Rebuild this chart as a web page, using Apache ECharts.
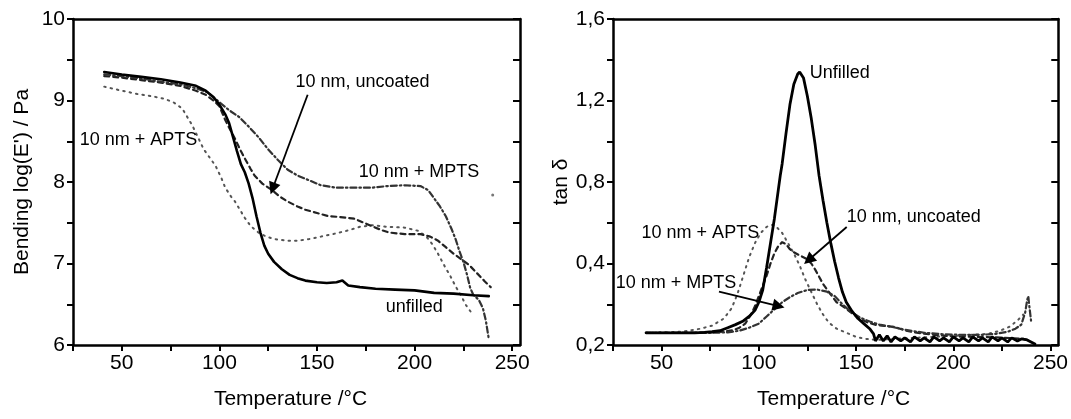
<!DOCTYPE html>
<html><head><meta charset="utf-8">
<script src="https://cdn.jsdelivr.net/npm/echarts@6/dist/echarts.min.js"></script>
<style>html,body{margin:0;padding:0;background:#fff}#c{width:1071px;height:419px}</style>
</head><body><div id="c"></div>
<script>
// ---------- Left panel: Bending log(E') / Pa vs Temperature ----------
const modUnfilled = [[41,9.35],[50,9.32],[60,9.29],[70,9.26],[80,9.22],[88,9.18],[93,9.12],[97,9.04],[100,8.95],[103,8.83],[105,8.72],[107,8.55],[109,8.38],[111,8.22],[113,8.12],[115,7.98],[117,7.8],[119,7.58],[121,7.38],[123,7.22],[125,7.12],[128,7.02],[132,6.93],[136,6.86],[140,6.82],[144,6.79],[150,6.77],[155,6.76],[160,6.77],[163,6.79],[166,6.73],[172,6.71],[180,6.69],[190,6.68],[200,6.67],[210,6.64],[220,6.63],[230,6.61],[238,6.6]];
const modUncoated = [[41,9.3],[50,9.28],[60,9.25],[70,9.22],[80,9.18],[88,9.12],[93,9.07],[97,9.0],[100,8.93],[103,8.76],[106,8.62],[108,8.53],[111,8.38],[113,8.29],[116,8.16],[118,8.08],[122,7.98],[127,7.9],[131,7.82],[135,7.76],[140,7.7],[144,7.66],[150,7.62],[156,7.58],[162,7.57],[169,7.55],[174,7.5],[178,7.46],[183,7.41],[187,7.38],[195,7.36],[203,7.36],[208,7.33],[212,7.28],[216,7.2],[220,7.12],[224,7.05],[228,6.98],[232,6.88],[236,6.78],[239,6.71]];
const modMPTS = [[41,9.32],[50,9.3],[60,9.27],[70,9.23],[80,9.2],[88,9.15],[94,9.1],[100,8.98],[105,8.88],[110,8.8],[115,8.68],[120,8.55],[125,8.4],[130,8.27],[135,8.15],[140,8.08],[145,8.03],[152,7.96],[160,7.93],[170,7.93],[178,7.93],[186,7.95],[195,7.96],[203,7.95],[207,7.9],[210,7.8],[213,7.7],[216,7.58],[219,7.42],[221,7.3],[223,7.15],[225,7.02],[227,6.85],[228.5,6.7],[230,6.62],[233,6.55],[235,6.45],[236.5,6.3],[237.5,6.15],[238,6.08]];
const modAPTS = [[41,9.17],[50,9.12],[58,9.08],[66,9.05],[72,9.02],[77,8.97],[81,8.9],[84,8.78],[86,8.7],[89,8.55],[92,8.4],[95,8.3],[98,8.2],[101,8.05],[103,7.93],[106,7.82],[108,7.76],[111,7.64],[113,7.56],[116,7.46],[120,7.38],[124,7.33],[128,7.3],[135,7.28],[140,7.28],[146,7.3],[152,7.33],[158,7.36],[165,7.4],[172,7.45],[178,7.47],[186,7.45],[195,7.44],[202,7.4],[206,7.33],[209,7.24],[212,7.12],[214,7.03],[216,6.94],[218,6.86],[221,6.72],[224,6.6],[226,6.5],[229,6.4]];
const modAPTSStray = [[240,7.84]];

// ---------- Right panel: tan delta vs Temperature ----------
const tanUnfilled = [[42,0.06],[50,0.06],[60,0.06],[67,0.06],[72,0.062],[76,0.065],[80,0.07],[84,0.085],[88,0.1],[92,0.118],[95,0.14],[98,0.17],[100,0.21],[102,0.27],[104,0.38],[106,0.5],[108,0.62],[110,0.76],[111,0.83],[112,0.89],[114,1.04],[116,1.18],[118,1.28],[120,1.33],[121,1.34],[123,1.31],[125,1.22],[127,1.11],[129,0.98],[131,0.83],[133,0.71],[135,0.6],[137,0.5],[139,0.41],[141,0.33],[143,0.26],[145,0.21],[148,0.165],[151,0.13],[154,0.105],[157,0.08],[159,0.055],[160,0.02],[162,0.05],[164,0.02],[166,0.045],[168,0.015],[170,0.04],[173,0.02],[175,0.035],[178,0.015],[180,0.04],[183,0.02],[185,0.035],[188,0.015],[190,0.04],[193,0.02],[195,0.035],[198,0.015],[200,0.04],[203,0.02],[205,0.035],[208,0.015],[210,0.04],[213,0.02],[215,0.035],[218,0.015],[220,0.04],[223,0.02],[225,0.035],[228,0.015],[230,0.035],[233,0.02],[235,0.03],[238,0.025],[240,0.015],[242,0.005]];
const tanUncoated = [[42,0.06],[60,0.06],[75,0.062],[82,0.066],[87,0.073],[90,0.085],[93,0.105],[96,0.15],[98,0.19],[100,0.24],[102,0.29],[104,0.34],[106,0.4],[108,0.45],[110,0.485],[112,0.505],[114,0.495],[116,0.47],[118,0.455],[121,0.44],[125,0.42],[127,0.4],[129,0.37],[131,0.335],[133,0.3],[136,0.26],[140,0.21],[144,0.185],[148,0.155],[152,0.13],[156,0.11],[161,0.097],[166,0.092],[170,0.088],[175,0.072],[180,0.062],[190,0.05],[200,0.042],[210,0.04],[220,0.038],[230,0.034],[236,0.03],[240,0.02]];
const tanMPTS = [[42,0.06],[60,0.06],[75,0.06],[84,0.062],[90,0.07],[95,0.085],[100,0.105],[104,0.14],[108,0.175],[112,0.21],[116,0.235],[120,0.255],[125,0.27],[130,0.272],[135,0.262],[139,0.24],[143,0.2],[147,0.165],[152,0.135],[157,0.115],[162,0.1],[168,0.09],[175,0.075],[185,0.06],[195,0.052],[205,0.05],[215,0.05],[222,0.055],[228,0.065],[232,0.08],[235,0.1],[237,0.16],[238,0.22],[238.6,0.24],[239,0.2],[240,0.12]];
const tanAPTS = [[42,0.06],[60,0.065],[70,0.08],[76,0.095],[82,0.13],[86,0.18],[89,0.25],[92,0.34],[95,0.43],[98,0.5],[101,0.55],[104,0.58],[107,0.59],[109,0.58],[112,0.55],[115,0.5],[118,0.45],[121,0.39],[124,0.32],[127,0.26],[130,0.2],[133,0.15],[136,0.11],[140,0.08],[145,0.06],[150,0.04],[155,0.03],[160,0.025],[170,0.03],[180,0.035],[190,0.04],[200,0.045],[210,0.05],[218,0.055],[224,0.07],[229,0.09],[233,0.12],[236,0.15]];

// ---------- Ticks ----------
const tempTicks = [25,50,75,100,125,150,175,200,225,250];
const tempLabels = [50,100,150,200,250];
const modTicks = [6,6.5,7,7.5,8,8.5,9,9.5,10];
const modLabels = [6,7,8,9,10];
const tanTicks = [0,0.2,0.4,0.6,0.8,1.0,1.2,1.4,1.6];
const tanLabelValues = [0,0.4,0.8,1.2,1.6];
const tanLabelTexts = ['0,2','0,4','0,8','1,2','1,6'];

const FONT = '"Liberation Sans", Arial, Helvetica, sans-serif';
const AX = {color:'#000', width:2.5};

function xBottom(g, namePad){
  return {gridIndex:g, type:'value', min:25, max:254, position:'bottom',
    axisLine:{show:true,onZero:false,lineStyle:AX},
    axisTick:{show:true,inside:false,length:6,lineStyle:{color:'#000',width:2},customValues:tempTicks},
    axisLabel:{customValues:tempLabels,fontSize:21,color:'#000',margin:8,fontFamily:FONT},
    splitLine:{show:false},
    name:'Temperature /°C', nameLocation:'middle', nameGap:44,
    nameTextStyle:{fontSize:21,color:'#000',fontFamily:FONT,padding:namePad}};
}
function xTop(g){
  return {gridIndex:g, type:'value', min:25, max:254, position:'top',
    axisLine:{show:true,onZero:false,lineStyle:AX}, axisTick:{show:false}, axisLabel:{show:false}, splitLine:{show:false}};
}
function yLeft(g,min,max,ticks,labels,fmt,name,gap){
  return {gridIndex:g, type:'value', min:min, max:max, position:'left',
    axisLine:{show:true,onZero:false,lineStyle:AX},
    axisTick:{show:true,inside:false,length:6,lineStyle:{color:'#000',width:2},customValues:ticks},
    axisLabel:{customValues:labels,fontSize:21,color:'#000',margin:8,fontFamily:FONT,formatter:fmt},
    splitLine:{show:false},
    name:name, nameLocation:'middle', nameGap:gap, nameRotate:90,
    nameTextStyle:{fontSize:21,color:'#000',fontFamily:FONT}};
}
function yRight(g,min,max,ticks){
  return {gridIndex:g, type:'value', min:min, max:max, position:'right',
    axisLine:{show:true,onZero:false,lineStyle:AX},
    axisTick:{show:true,inside:true,length:7,lineStyle:{color:'#000',width:2},customValues:ticks},
    axisLabel:{show:false}, splitLine:{show:false}};
}
function line(xi, yi, data, color, width, type, extra){
  return Object.assign({type:'line', xAxisIndex:xi, yAxisIndex:yi, data:data, showSymbol:false, symbol:'none',
    animation:false, silent:true, lineStyle:{color:color,width:width,type:type,cap:'round'}}, extra||{});
}
function arrow(from, to){
  return {silent:true, animation:false, symbol:['none','triangle'], symbolSize:12, symbolKeepAspect:false,
    itemStyle:{color:'#000'},
    lineStyle:{color:'#000',width:1.8,type:'solid'}, label:{show:false}, emphasis:{disabled:true},
    data:[[{coord:from},{coord:to}]]};
}

const chart = echarts.init(document.getElementById('c'), null, {renderer:'canvas'});
chart.setOption({
  backgroundColor:'#fff',
  animation:false,
  grid:[{left:73,top:19,width:447,height:326},{left:613,top:19,width:447,height:326}],
  xAxis:[xBottom(0,[0,12,0,0]), xTop(0), xBottom(1,[0,4,0,0]), xTop(1)],
  yAxis:[
    yLeft(0,6,10,modTicks,modLabels,v=>String(v),"Bending log(E') / Pa",40),
    yRight(0,6,10,modTicks),
    yLeft(1,0,1.6,tanTicks,tanLabelValues,v=>{const i=tanLabelValues.findIndex(t=>Math.abs(t-v)<1e-6);return i>=0?tanLabelTexts[i]:'';},'tan δ',40),
    yRight(1,0,1.6,tanTicks)
  ],
  series:[
    line(0,0,modAPTS,'#555',2,[1.5,5]),
    {type:'scatter',xAxisIndex:0,yAxisIndex:0,data:modAPTSStray,symbolSize:3,itemStyle:{color:'#555'},animation:false,silent:true},
    line(0,0,modUncoated,'#222',2.2,[5,4],{markLine:arrow([145.2,9.07],[127.3,7.92])}),
    line(0,0,modMPTS,'#333',2.2,[6,3,1.5,3]),
    line(0,0,modUnfilled,'#000',2.6,'solid'),
    line(2,2,tanAPTS,'#555',2,[1.5,5]),
    line(2,2,tanUncoated,'#222',2.2,[5,4],{markLine:arrow([145.2,0.579],[125.6,0.417])}),
    line(2,2,tanMPTS,'#333',2.2,[6,3,1.5,3],{markLine:arrow([79.5,0.262],[110.2,0.191])}),
    line(2,2,tanUnfilled,'#000',2.8,'solid')
  ]
});

// annotation texts placed in data coordinates
const annotations = [
  {s:4, at:[139,9.23], text:'10 nm, uncoated'},
  {s:4, at:[171.4,8.12], text:'10 nm + MPTS'},
  {s:4, at:[28.4,8.52], text:'10 nm + APTS'},
  {s:4, at:[185.2,6.47], text:'unfilled'},
  {s:8, at:[126.2,1.336], text:'Unfilled'},
  {s:8, at:[145.2,0.628], text:'10 nm, uncoated'},
  {s:8, at:[39.7,0.55], text:'10 nm + APTS'},
  {s:8, at:[26.4,0.304], text:'10 nm + MPTS'}
];
const g = annotations.map(a=>{
  const p = chart.convertToPixel({seriesIndex:a.s}, a.at);
  return {type:'text', x:p[0], y:p[1], silent:true, z:10,
    style:{text:a.text, fill:'#000', font:'18px '+FONT, textAlign:'left', textVerticalAlign:'middle'}};
});
chart.setOption({graphic:g});
</script></body></html>
